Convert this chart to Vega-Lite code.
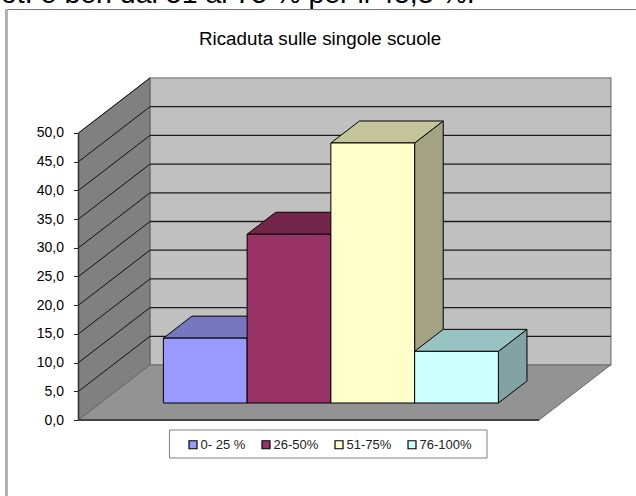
{"$schema":"https://vega.github.io/schema/vega-lite/v6.json","width":636,"height":496,"padding":0,"autosize":{"type":"none"},"background":"#ffffff","config":{"view":{"stroke":null},"font":"Liberation Sans"},"datasets":{"barre":[{"fascia":"0- 25 %","valore":11.3},{"fascia":"26-50%","valore":29.4},{"fascia":"51-75%","valore":45.3},{"fascia":"76-100%","valore":9.0}],"griglia":[{"t":0},{"t":5},{"t":10},{"t":15},{"t":20},{"t":25},{"t":30},{"t":35},{"t":40},{"t":45},{"t":50}],"prof":[{"d":0},{"d":1}]},"encoding":{"y":{"type":"quantitative","scale":{"domain":[-13.24,73.17],"nice":false,"zero":false}}},"resolve":{"scale":{"color":"independent"}},"layer":[
{"data":{"values":[{"testo":"ot. e ben dal 51 al 75 % per il 45,3 %."}]},"mark":{"type":"text","align":"left","baseline":"alphabetic","font":"Liberation Sans","fontSize":28.5,"color":"#000"},"encoding":{"text":{"field":"testo"},"x":{"datum":-0.925,"type":"quantitative","scale":{"domain":[-0.937,6.657],"nice":false,"zero":false},"axis":null},"y":{"datum":72.65,"type":"quantitative","axis":{"orient":"left","offset":-78.5,"values":[0,5,10,15,20,25,30,35,40,45,50],"labelExpr":"replace(format(datum.value,'.1f'),'.',',')","grid":false,"domain":false,"title":null,"tickSize":5,"tickColor":"#222","labelPadding":10,"labelFont":"Liberation Sans","labelFontSize":14,"labelColor":"#000"}}}},
{"data":{"values":[{"k":1}]},"mark":{"type":"rule","stroke":"#707070","strokeWidth":1},"encoding":{"x":{"datum":-0.86,"type":"quantitative"},"x2":{"datum":6.657},"y":{"datum":71.5,"type":"quantitative"},"y2":{"datum":71.5}}},
{"data":{"values":[{"k":1}]},"mark":{"type":"rule","stroke":"#b0b0b0","strokeWidth":3},"encoding":{"x":{"datum":-0.86,"type":"quantitative"},"y":{"datum":71.5,"type":"quantitative"},"y2":{"datum":-13.24}}},
{"data":{"values":[{"k":1}]},"mark":{"type":"rect","fill":"#c0c0c0","stroke":"#8a8a8a","strokeWidth":1.5},"encoding":{"x":{"datum":0.8537,"type":"quantitative"},"x2":{"datum":6.357},"y":{"datum":9.58,"type":"quantitative"},"y2":{"datum":59.58}}},
{"data":{"name":"prof"},"transform":[{"calculate":"datum.d*0.8537","as":"x0"},{"calculate":"datum.d*9.58","as":"y0"},{"calculate":"datum.d*9.58+50","as":"y1"}],"mark":{"type":"area","orient":"vertical","fill":"#808080","stroke":"#606060","strokeWidth":1},"encoding":{"x":{"field":"x0","type":"quantitative"},"y":{"field":"y0","type":"quantitative"},"y2":{"field":"y1"}}},
{"data":{"name":"prof"},"transform":[{"calculate":"datum.d*9.58","as":"y0"},{"calculate":"datum.d*0.8537","as":"x0"},{"calculate":"datum.d*0.8537+5.5","as":"x1"}],"mark":{"type":"area","orient":"horizontal","fill":"#939393","stroke":"#6a6a6a","strokeWidth":1},"encoding":{"y":{"field":"y0","type":"quantitative"},"x":{"field":"x0","type":"quantitative"},"x2":{"field":"x1"}}},
{"data":{"name":"griglia"},"transform":[{"filter":"datum.t>0 && datum.t<50"},{"calculate":"datum.t+9.58","as":"ty"}],"mark":{"type":"rule","stroke":"#1c1c1c","strokeWidth":1.3},"encoding":{"x":{"datum":0.8537,"type":"quantitative"},"x2":{"datum":6.357},"y":{"field":"ty","type":"quantitative"},"y2":{"field":"ty"}}},
{"data":{"name":"griglia"},"transform":[{"filter":"datum.t>0"},{"calculate":"datum.t+9.58","as":"ty"}],"mark":{"type":"rule","stroke":"#111","strokeWidth":1},"encoding":{"x":{"datum":0,"type":"quantitative"},"x2":{"datum":0.8537},"y":{"field":"t","type":"quantitative"},"y2":{"field":"ty"}}},
{"data":{"values":[{"k":1}]},"mark":{"type":"rule","stroke":"#333","strokeWidth":1.5},"encoding":{"x":{"datum":0,"type":"quantitative"},"y":{"datum":0,"type":"quantitative"},"y2":{"datum":50}}},
{"data":{"values":[{"k":1}]},"mark":{"type":"rule","stroke":"#444","strokeWidth":2},"encoding":{"x":{"datum":0,"type":"quantitative"},"x2":{"datum":5.5},"y":{"datum":0,"type":"quantitative"},"y2":{"datum":0}}},
{"data":{"values":[{"k":1}]},"mark":{"type":"rect","fill":"#ffffff","stroke":"#808080","strokeWidth":1},"encoding":{"x":{"datum":1.0866,"type":"quantitative"},"x2":{"datum":4.878},"y":{"datum":-1.74,"type":"quantitative"},"y2":{"datum":-6.62}}},
{"data":{"name":"barre"},"transform":[{"calculate":"indexof(['0- 25 %','26-50%','51-75%','76-100%'],datum.fascia)","as":"n"},{"calculate":"[0.309,0.709]","as":"d"},{"flatten":["d"]},{"calculate":"datum.n+0.75+1+datum.d*0.8537","as":"xa"},{"calculate":"datum.d*9.58","as":"ya"},{"calculate":"datum.valore+datum.d*9.58","as":"yb"}],"mark":{"type":"area","orient":"vertical","stroke":"#000","strokeWidth":1},"encoding":{"x":{"field":"xa","type":"quantitative"},"y":{"field":"ya","type":"quantitative"},"y2":{"field":"yb"},"color":{"field":"fascia","type":"nominal","legend":null,"scale":{"domain":["0- 25 %","26-50%","51-75%","76-100%"],"range":["#6262a3","#622142","#a3a383","#82a3a3"]}}}},
{"data":{"name":"barre"},"transform":[{"calculate":"indexof(['0- 25 %','26-50%','51-75%','76-100%'],datum.fascia)","as":"n"},{"calculate":"[0.309,0.709]","as":"d"},{"flatten":["d"]},{"calculate":"datum.n+0.75+datum.d*0.8537","as":"xa"},{"calculate":"datum.n+1.75+datum.d*0.8537","as":"xb"},{"calculate":"datum.valore+datum.d*9.58","as":"ya"}],"mark":{"type":"area","orient":"horizontal","stroke":"#000","strokeWidth":1},"encoding":{"y":{"field":"ya","type":"quantitative"},"x":{"field":"xa","type":"quantitative"},"x2":{"field":"xb"},"color":{"field":"fascia","type":"nominal","legend":null,"scale":{"domain":["0- 25 %","26-50%","51-75%","76-100%"],"range":["#7777bf","#732649","#c4c49a","#99c2c2"]}}}},
{"data":{"name":"barre"},"transform":[{"calculate":"indexof(['0- 25 %','26-50%','51-75%','76-100%'],datum.fascia)","as":"n"},{"calculate":"datum.n+0.75+0.2638","as":"xa"},{"calculate":"datum.n+1.75+0.2638","as":"xb"},{"calculate":"0.309*9.58","as":"ya"},{"calculate":"datum.valore+0.309*9.58","as":"yb"}],"mark":{"type":"rect","stroke":"#000","strokeWidth":1},"encoding":{"x":{"field":"xa","type":"quantitative"},"x2":{"field":"xb"},"y":{"field":"ya","type":"quantitative"},"y2":{"field":"yb"},"color":{"field":"fascia","type":"nominal","scale":{"domain":["0- 25 %","26-50%","51-75%","76-100%"],"range":["#9999ff","#993366","#ffffcc","#ccffff"]},"legend":{"orient":"none","legendX":186.5,"legendY":438,"direction":"horizontal","columns":4,"title":null,"padding":0,"symbolType":"square","symbolSize":64,"symbolStrokeColor":"#000","symbolStrokeWidth":1.2,"labelFont":"Liberation Sans","labelFontSize":13,"labelColor":"#222","columnPadding":14,"labelOffset":1}}}},
{"data":{"values":[{"titolo":"Ricaduta sulle singole scuole"}]},"mark":{"type":"text","align":"center","baseline":"alphabetic","font":"Liberation Sans","fontSize":18.8,"color":"#000"},"encoding":{"text":{"field":"titolo"},"x":{"datum":2.885,"type":"quantitative"},"y":{"datum":65.3,"type":"quantitative"}}}
]}
